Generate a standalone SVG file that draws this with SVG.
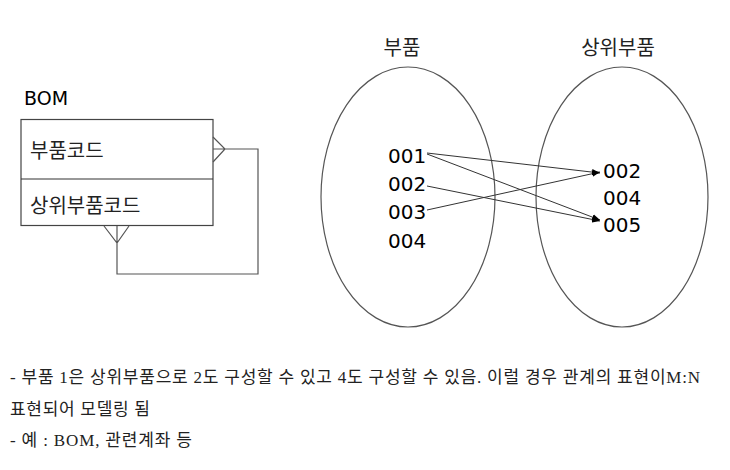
<svg xmlns="http://www.w3.org/2000/svg" width="730" height="470" viewBox="0 0 730 470">
<defs>
<marker id="ah" viewBox="0 0 10 10" refX="10" refY="5" markerWidth="8" markerHeight="8" markerUnits="userSpaceOnUse" orient="auto"><path d="M0,1 L10,5 L0,9 z" fill="#000"/></marker>
<style>
.t{font-family:"DejaVu Sans","Noto Sans CJK KR",sans-serif;fill:#000}
.k{font-family:"Noto Sans CJK KR",sans-serif;fill:#222}
.n{font-family:"DejaVu Sans","Noto Sans",sans-serif;font-size:20px;fill:#000}
.s{font-family:"Liberation Serif","Noto Sans CJK KR",serif;font-size:17px;fill:#222}
.ln{fill:none;stroke:#555;stroke-width:1.2}
.ar{fill:none;stroke:#333;stroke-width:1}
</style>
</defs>
<rect width="730" height="470" fill="#fff"/>
<g id="bom">
<text x="24" y="105" class="t" font-size="19" fill="#333">BOM</text>
<rect x="21" y="119.5" width="192" height="106" fill="#fff" stroke="#444" stroke-width="1.2"/>
<line x1="21" y1="179" x2="213" y2="179" stroke="#333" stroke-width="1.2"/>
<text x="30" y="158" class="k" font-size="20">부품코드</text>
<text x="30" y="213" class="k" font-size="20">상위부품코드</text>
</g>
<g id="left-set">
<ellipse cx="408" cy="197" rx="87" ry="130" class="ln"/>
<text x="402" y="55" class="k" font-size="20" text-anchor="middle">부품</text>
<text x="388" y="163" class="n">001</text>
<text x="388" y="191" class="n">002</text>
<text x="388" y="219" class="n">003</text>
<text x="388" y="248" class="n">004</text>
</g>
<g id="right-set">
<ellipse cx="622" cy="197" rx="86" ry="130" class="ln"/>
<text x="618" y="55" class="k" font-size="20" text-anchor="middle">상위부품</text>
<text x="603" y="178" class="n">002</text>
<text x="603" y="205" class="n">004</text>
<text x="603" y="232" class="n">005</text>
</g>
<g id="connectors">
<path d="M213,137 L225,149 L213,162 M213,149 H258 V274 H117 V226 M104,226 L117,243 L129,226" class="ln"/>
<line x1="427" y1="153" x2="600" y2="173" class="ar" marker-end="url(#ah)"/>
<line x1="427" y1="154" x2="600" y2="220" class="ar" marker-end="url(#ah)"/>
<line x1="427" y1="186" x2="600" y2="221" class="ar" marker-end="url(#ah)"/>
<line x1="427" y1="210" x2="600" y2="172" class="ar" marker-end="url(#ah)"/>
</g>
<g id="notes">
<text x="10" y="383" class="s" textLength="690" lengthAdjust="spacing">- 부품 1은 상위부품으로 2도 구성할 수 있고 4도 구성할 수 있음. 이럴 경우 관계의 표현이M:N</text>
<text x="10" y="415" class="s" textLength="140" lengthAdjust="spacing">표현되어 모델링 됨</text>
<text x="10" y="446" class="s" textLength="182" lengthAdjust="spacing">- 예 : BOM, 관련계좌 등</text>
</g>
</svg>
